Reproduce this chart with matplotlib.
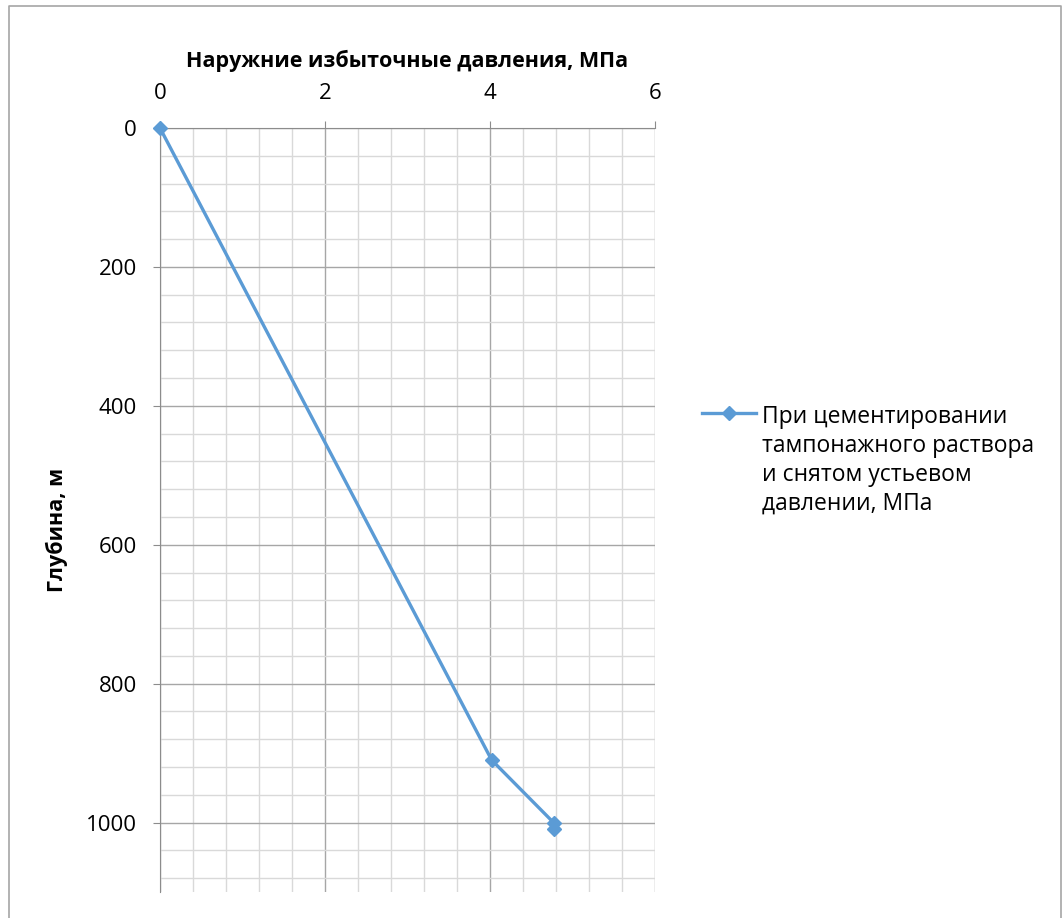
import matplotlib.pyplot as plt
from matplotlib.lines import Line2D
from matplotlib.ticker import MultipleLocator

plt.rcParams['font.family'] = ['Open Sans', 'DejaVu Sans']

# давление, МПа и глубина, м
pressure = [0, 4.02, 4.77, 4.77]
depth = [0, 910, 1000, 1010]

series_label = ('При цементировании\nтампонажного раствора\n'
                'и снятом устьевом\nдавлении, МПа')
x_title = 'Наружние избыточные давления, МПа'
y_title = 'Глубина, м'

W, H = 1062, 918
fig = plt.figure(figsize=(W / 100, H / 100), dpi=100)

# рамка области диаграммы
frame = Line2D([9 / W, 9 / W, 1061 / W, 1061 / W],
               [0, 1 - 6 / H, 1 - 6 / H, 0],
               transform=fig.transFigure, color='#a6a6a6', lw=1.2)
fig.add_artist(frame)

ax = fig.add_axes([160 / W, 1 - 892 / H, 495 / W, (892 - 128) / H])

ax.plot(pressure, depth, color='#5b9bd5', lw=2.4, marker='D', ms=7,
        label=series_label, zorder=3, clip_on=False)

ax.set_xlim(0, 6)
ax.set_ylim(1100, 0)
ax.xaxis.set_major_locator(MultipleLocator(2))
ax.xaxis.set_minor_locator(MultipleLocator(0.4))
ax.yaxis.set_major_locator(MultipleLocator(200))
ax.yaxis.set_minor_locator(MultipleLocator(40))
ax.xaxis.tick_top()
ax.xaxis.set_label_position('top')

ax.grid(which='major', color='#a6a6a6', lw=1.0)
ax.grid(which='minor', color='#d9d9d9', lw=1.0)
ax.set_axisbelow(True)

for side in ['bottom', 'right']:
    ax.spines[side].set_visible(False)
ax.spines['top'].set_color('#8c8c8c')
ax.spines['left'].set_color('#8c8c8c')

ax.tick_params(which='major', length=5, color='#8c8c8c', labelsize=16)
ax.tick_params(which='minor', length=0)
ax.tick_params(axis='y', pad=11.5)
ax.tick_params(axis='x', pad=12.5)

ax.set_xlabel(x_title, fontsize=15.5, fontweight='bold', labelpad=11)
fig.text(57 / W, 1 - 530 / H, y_title, rotation=90, fontsize=15.5,
         fontweight='bold', ha='center', va='center')

leg = fig.legend(loc='upper left', bbox_to_anchor=(702 / W, 1 - 405 / H),
                 frameon=False, fontsize=16.5, handlelength=2.35,
                 handletextpad=0.25, borderpad=0, borderaxespad=0)
for t in leg.get_texts():
    t.set_linespacing(1.28)
# маркер легенды — напротив первой строки подписи
for col in leg._legend_handle_box.get_children():
    for row in col.get_children():
        row.align = 'top'

fig.savefig('out.png', dpi=100)
